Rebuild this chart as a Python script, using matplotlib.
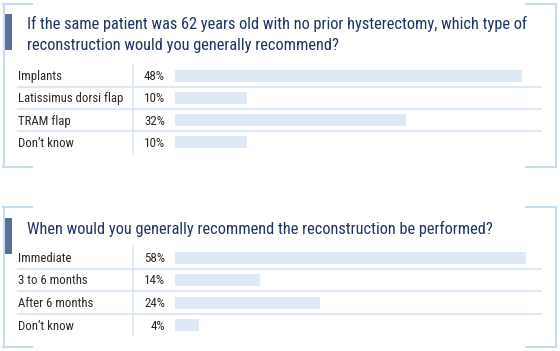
import matplotlib
matplotlib.use("Agg")
import matplotlib.pyplot as plt
from matplotlib.lines import Line2D
from matplotlib.patches import Rectangle
from matplotlib import font_manager

# data
q1_title = ["If the same patient was 62 years old with no prior hysterectomy, which type of",
            "reconstruction would you generally recommend?"]
q1_labels = ["Implants", "Latissimus dorsi flap", "TRAM flap", "Don\u2019t know"]
q1_values = [48, 10, 32, 10]

q2_title = ["When would you generally recommend the reconstruction be performed?"]
q2_labels = ["Immediate", "3 to 6 months", "After 6 months", "Don\u2019t know"]
q2_values = [58, 14, 24, 4]

# pick a narrow font if there is one
names = set(f.name for f in font_manager.fontManager.ttflist)
fam = "Roboto"
for cand in ["Roboto Condensed", "Archivo Narrow", "PT Sans Narrow", "Liberation Sans Narrow",
             "Arial Narrow", "Fira Sans Condensed", "IBM Plex Sans Condensed", "Open Sans Condensed"]:
    if cand in names:
        fam = cand
        break
plt.rcParams['font.family'] = [fam, 'DejaVu Sans']

W, H = 560, 351
fig = plt.figure(figsize=(W / 100, H / 100), dpi=100)
fig.patch.set_facecolor("white")
renderer = fig.canvas.get_renderer()

bracket_c = "#c8dbf0"
line_c = "#dde9f6"
bar_c = "#dfe9f6"
block_c = "#5d7096"
title_c = "#1f3564"
text_c = "#2b2b2b"


def fx(x):
    return x / W


def fy(y):
    return 1 - y / H


def fit_size(s, width, start=10):
    # font size that makes s about `width` pixels wide
    t = fig.text(0, 0, s, fontsize=start)
    w = t.get_window_extent(renderer).width
    t.remove()
    return start * width / w


def hline(x0, x1, y, c, lw):
    fig.add_artist(Line2D([fx(x0), fx(x1)], [fy(y), fy(y)], color=c, lw=lw, transform=fig.transFigure))


def vline(x, y0, y1, c, lw):
    fig.add_artist(Line2D([fx(x), fx(x)], [fy(y0), fy(y1)], color=c, lw=lw, transform=fig.transFigure))


title_fs = min(fit_size(q1_title[0], 500), fit_size(q2_title[0], 464))
label_fs = fit_size("Latissimus dorsi flap", 105)
pct_fs = fit_size("48%", 21)


def panel(top, bottom, block, title, title_base, labels, values, row0, step, xmax):
    # brackets
    vline(3.5, top, bottom, bracket_c, 1.5)
    hline(3, 32, top, bracket_c, 1.5)
    hline(3, 32, bottom, bracket_c, 1.5)
    vline(555.5, top, bottom, bracket_c, 1.5)
    hline(526, 556, top, bracket_c, 1.5)
    hline(526, 556, bottom, bracket_c, 1.5)
    fig.add_artist(Rectangle((fx(3), fy(block[1])), fx(9), (block[1] - block[0]) / H,
                             facecolor=block_c, edgecolor="none", transform=fig.transFigure))
    for k, line in enumerate(title):
        fig.text(fx(27), fy(title_base + 21 * k), line, color=title_c, fontsize=title_fs,
                 va="baseline", ha="left")

    n = len(labels)
    y_top = row0 - step / 2
    y_bot = row0 + step * (n - 0.5)
    ax = fig.add_axes([fx(175), fy(y_bot), fx(541) - fx(175), (y_bot - y_top) / H])
    ax.barh(range(n), values, height=12 / step, color=bar_c, left=0)
    ax.set_xlim(0, xmax)
    ax.set_ylim(n - 0.5, -0.5)
    ax.axis("off")
    for i, (lab, v) in enumerate(zip(labels, values)):
        yc = row0 + i * step
        fig.text(fx(18), fy(yc + 4.5), lab, color=text_c, fontsize=label_fs, va="baseline", ha="left")
        fig.text(fx(165), fy(yc + 4.5), f"{v}%", color=text_c, fontsize=pct_fs, va="baseline", ha="right")
        if i < n - 1:
            hline(18, 541, yc + step / 2, line_c, 1.5)
    vline(132.5, y_top, y_bot, line_c, 1.2)


panel(4, 167, (14, 50), q1_title, 29, q1_labels, q1_values, 75.5, 22.3, 50.6)
panel(207, 347, (218, 254), q2_title, 234, q2_labels, q2_values, 257.5, 22.5, 60.4)

fig.savefig("out.png", dpi=100, facecolor="white")
